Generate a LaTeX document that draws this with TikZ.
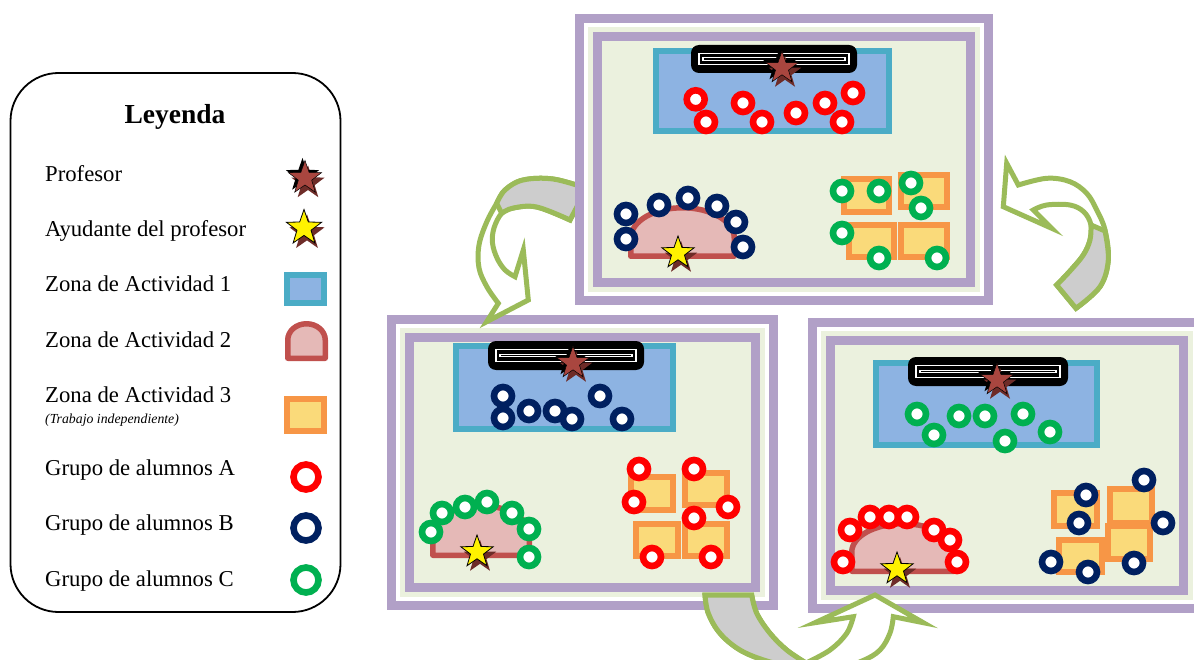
\documentclass[tikz,border=0pt]{standalone}
\usepackage{fontspec}
\setmainfont{Liberation Serif}
\definecolor{roompurple}{HTML}{B1A0C7}
\definecolor{roomgreen}{HTML}{EBF1DE}
\definecolor{zteal}{HTML}{4BACC6}
\definecolor{zblue}{HTML}{8DB3E2}
\definecolor{zdomeline}{HTML}{C0504D}
\definecolor{zdomefill}{HTML}{E5B9B7}
\definecolor{zorange}{HTML}{F79646}
\definecolor{zyellow}{HTML}{FADA7A}
\definecolor{ringred}{HTML}{FF0000}
\definecolor{ringnavy}{HTML}{002060}
\definecolor{ringgreen}{HTML}{00B050}
\definecolor{starbrown}{HTML}{A9463F}
\definecolor{starshadow}{HTML}{6E2C28}
\definecolor{arrowgreen}{HTML}{9BBB59}
\definecolor{arrowgray}{HTML}{CDCDCD}
\tikzset{
  roomline/.style={draw=roompurple, line width=9},
  zoneA/.style={draw=zteal, fill=zblue, line width=6},
  zoneB/.style={draw=zdomeline, fill=zdomefill, line width=5.5, line join=round},
  zoneC/.style={draw=zorange, fill=zyellow, line width=6},
  grpA/.style={draw=ringred, fill=white, line width=6.6},
  grpB/.style={draw=ringnavy, fill=white, line width=6.6},
  grpC/.style={draw=ringgreen, fill=white, line width=6.6},
  starp/.style={insert path={(270:#1) -- (306:{0.4*#1}) -- (342:#1) -- (18:{0.4*#1}) -- (54:#1) -- (90:{0.4*#1}) -- (126:#1) -- (162:{0.4*#1}) -- (198:#1) -- (234:{0.4*#1}) -- cycle}},
  teacher/.pic={
    \fill[starshadow, shift={(3,5)}, starp=#1];
    \fill[black, shift={(-2.5,-2.5)}, starp=#1];
    \filldraw[fill=starbrown, draw=black, line width=0.5, starp=#1];
  },
  helper/.pic={
    \fill[starshadow, shift={(3,5)}, starp=#1];
    \filldraw[fill=yellow, draw=black, line width=0.8, starp=#1];
  },
  bigarrow/.style={draw=arrowgreen, fill=white, line width=5, line join=miter},
  arrowback/.style={draw=arrowgreen, fill=arrowgray, line width=5, line join=miter},
  legtext/.style={font=\fontsize{22.7}{27}\selectfont, anchor=base west, inner sep=0},
  legnote/.style={font=\itshape\fontsize{13.8}{16}\selectfont, anchor=base west, inner sep=0},
}
% room outline: outer band, white gap, green band, inner band
\newcommand{\roomframe}[4]{%
  \fill[white] (#1,#2) rectangle (#3,#4);
  \draw[roomline] ({#1+4.5},{#2+4.5}) rectangle ({#3-4.5},{#4-4.5});
  \fill[roomgreen] ({#1+13},{#2+13}) rectangle ({#3-13},{#4-13});
  \draw[roomline] ({#1+22.5},{#2+22.5}) rectangle ({#3-22.5},{#4-22.5});
}
\newcommand{\zoneone}[4]{\draw[zoneA] ({#1+3},{#2+3}) rectangle ({#3-3},{#4-3});}
\newcommand{\zonethree}[4]{\draw[zoneC] ({#1+3},{#2+3}) rectangle ({#3-3},{#4-3});}
% dome: left, right, top, start of the arc, bottom
\newcommand{\zonetwo}[5]{\draw[zoneB] ({#1+2.75},{#5-2.75}) -- ({#1+2.75},#4)
  arc[start angle=180, end angle=360, x radius={(#2-#1-5.5)/2}, y radius={#4-#3-2.75}]
  -- ({#2-2.75},{#5-2.75}) -- cycle;}
\newcommand{\chalkboard}[4]{%
  \fill[black, rounded corners=8] (#1,#2) rectangle (#3,#4);
  \draw[white, line width=1.6] ({#1+8},{#2+8.5}) rectangle ({#3-8},{#4-8.5});
  \draw[white, line width=1.1] ({#1+12},{(#2+#4)/2-1.3}) rectangle ({#3-12},{(#2+#4)/2+1.3});
}
\newcommand{\ringset}[2]{\foreach \p in {#2}{\draw[#1] \p circle[radius=9];}}
\begin{document}
\begin{tikzpicture}[x=1pt, y=-1pt]
\useasboundingbox (0,0) rectangle (1194,660);
\clip (0,0) rectangle (1194,660);
\fill[white] (0,0) rectangle (1194,660);

% ---------- legend ----------
\draw[line width=1.8, rounded corners=48] (10.5,73) rectangle (340.5,612);
\node[font=\bfseries\fontsize{27.5}{33}\selectfont, anchor=base, inner sep=0] (legtitle) at (175,124) {Leyenda};
\node[legtext] (lg1) at (45,181.7) {Profesor};
\node[legtext] (lg2) at (45,236.9) {Ayudante del profesor};
\node[legtext] (lg3) at (45,292) {Zona de Actividad 1};
\node[legtext] (lg4) at (45,347.5) {Zona de Actividad 2};
\node[legtext] (lg5) at (45,402.3) {Zona de Actividad 3};
\node[legnote] (lg5b) at (45,423) {(Trabajo independiente)};
\node[legtext] (lg6) at (45,475.7) {Grupo de alumnos A};
\node[legtext] (lg7) at (45,530.8) {Grupo de alumnos B};
\node[legtext] (lg8) at (45,586) {Grupo de alumnos C};
\pic at (305,178) {teacher=17.5};
\pic at (304,228) {helper=18.5};
\zoneone{284}{272}{327}{306}
\zonetwo{285}{328}{321}{340}{361}
\zonethree{284}{396}{327}{434}
\draw[grpA] (306,477) circle[radius=12.5];
\draw[grpB] (306,528) circle[radius=12.5];
\draw[grpC] (306,580) circle[radius=12.5];

% ---------- lower left classroom ----------
\roomframe{387}{315}{778}{610}
\zoneone{453}{343}{676}{432}
\chalkboard{488}{341}{644}{370}
\pic at (573,363) {teacher=17};
\ringset{grpB}{(503,396),(503,418),(529,411),(555,411),(572,419),(600,396),(622,419)}
\zonetwo{430}{532}{503}{534}{558}
\ringset{grpC}{(431,532),(442,513),(465,507),(487,502),(512,513),(529,529),(529,557)}
\pic at (477,552) {helper=17};
\zonethree{628}{474}{676}{513}
\zonethree{682}{470}{730}{508}
\zonethree{633}{521}{681}{559}
\zonethree{682}{521}{730}{559}
\ringset{grpA}{(639,469),(694,469),(634,502),(728,507),(694,518),(652,557),(711,557)}

% ---------- lower right classroom ----------
\roomframe{808}{318}{1206}{613}
\zoneone{873}{360}{1100}{448}
\chalkboard{908}{357}{1068}{386}
\pic at (997,380) {teacher=17};
\ringset{grpC}{(917,414),(934,435),(959,416),(985,416),(1023,414),(1005,441),(1050,432)}
\zonetwo{849}{957}{521}{552}{574}
\ringset{grpA}{(843,562),(850,530),(870,517),(889,517),(907,517),(934,530),(950,540),(957,562)}
\pic at (897,569) {helper=17};
\zonethree{1051}{490}{1100}{529}
\zonethree{1107}{486}{1155}{526}
\zonethree{1105}{523}{1153}{562}
\zonethree{1056}{537}{1105}{575}
\ringset{grpB}{(1144,480),(1086,495),(1079,523),(1163,523),(1051,562),(1088,572),(1134,563)}

% ---------- rotation arrows ----------
% top room -> lower left room
\filldraw[bigarrow] (586.7,188.3) -- plot[smooth, tension=0.6] coordinates {(586.7,188.3) (553,179) (523,180) (505,190) (496.7,203.3) (486.7,222) (479,245) (479,268) (487,287) (498.3,303.3)}
  -- (486.7,321.7) -- (528.3,300) -- (523.3,250) -- (515,276.7)
  -- plot[smooth, tension=0.6] coordinates {(515,276.7) (505,270) (497,258) (492.5,243) (494,228) (501.7,213.3) (513.3,208) (536.7,207) (570,220)} -- cycle;
\filldraw[arrowback] plot[smooth, tension=0.6] coordinates {(586.7,188.3) (553,179) (523,180) (505,190) (496.7,203.3)}
  -- (501.7,213.3) -- plot[smooth, tension=0.6] coordinates {(501.7,213.3) (513.3,208) (536.7,207) (570,220)} -- cycle;
% lower right room -> top room
\filldraw[bigarrow] (1076,308.3) -- plot[smooth, tension=0.6] coordinates {(1076,308.3) (1100,286.7) (1108.3,260) (1105,230) (1096.7,210) (1086.7,193.3) (1070,181.7) (1046.7,178.3) (1018.3,185)}
  -- (1006.7,163.3) -- (1003.3,206.7) -- (1051.7,228.3) -- (1033.3,210)
  -- plot[smooth, tension=0.6] coordinates {(1033.3,210) (1046.7,205) (1070,205) (1084,212) (1091,225) (1090,240) (1083.3,255) (1070,271) (1056.7,285)} -- cycle;
\filldraw[arrowback] plot[smooth, tension=0.6] coordinates {(1056.7,285) (1070,271) (1083.3,255) (1090,240) (1091,225)}
  -- (1105,231) -- plot[smooth, tension=0.6] coordinates {(1105,231) (1108.3,260) (1100,286.7) (1076,308.3)} -- cycle;
% lower left room -> lower right room
\filldraw[bigarrow] (705,595) -- plot[smooth, tension=0.6] coordinates {(705,595) (708.3,613.3) (720,633.3) (740,650) (766.7,661) (800,669) (835,669) (862,661) (880,650) (890,633) (893.3,616.7)}
  -- (923.3,622.7) -- (875,595) -- (815,622.7) -- (853.3,616.7)
  -- plot[smooth, tension=0.6] coordinates {(853.3,616.7) (846.7,633.3) (830,650) (806,663)}
  -- plot[smooth, tension=0.6] coordinates {(806,663) (786.7,650) (770,633.3) (756.7,613.3) (751.7,595)} -- cycle;
\filldraw[arrowback] plot[smooth, tension=0.6] coordinates {(705,595) (708.3,613.3) (720,633.3) (740,650) (766.7,661) (800,669)}
  -- (806,663) -- plot[smooth, tension=0.6] coordinates {(806,663) (786.7,650) (770,633.3) (756.7,613.3) (751.7,595)} -- cycle;

% ---------- top classroom ----------
\roomframe{575}{14}{993}{305}
\zoneone{653}{48}{892}{134}
\chalkboard{691}{45}{857}{73}
\pic at (782,68) {teacher=17};
\ringset{grpA}{(695.7,99.3),(706,122),(743,103),(762,122),(796,113),(825,103),(853,93),(842,122)}
\zonetwo{628}{737}{205}{238}{259}
\ringset{grpB}{(626,214),(626,239),(659,205),(688,198),(717,206),(736,222),(743,247)}
\pic at (678,253) {helper=17};
\zonethree{841}{176}{892}{215}
\zonethree{898}{172}{950}{210}
\zonethree{846}{222}{897}{260}
\zonethree{898}{222}{950}{260}
\ringset{grpC}{(842,191),(879,191),(911,183),(921,208),(842,233),(879,258),(937,258)}
\end{tikzpicture}
\end{document}
